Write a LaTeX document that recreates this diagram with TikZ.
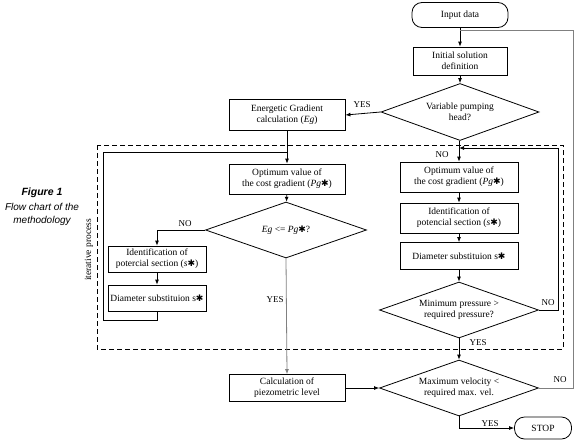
\documentclass[tikz,border=0pt]{standalone}
\usepackage{fontspec}
\setmainfont{Liberation Serif}
\setsansfont{Liberation Sans}
\newfontfamily\symbfont{DejaVu Sans}
\usetikzlibrary{positioning,arrows.meta,shapes.geometric}
\newcommand{\hvstar}{{\symbfont\fontsize{9}{9}\selectfont\char"2731}}

\tikzset{
  procbox/.style={draw, line width=0.8pt, minimum height=28pt, align=center, inner sep=1pt,
    font=\fontsize{9.5}{11}\selectfont},
  termbox/.style={draw, line width=0.8pt, rounded corners=10pt, align=center,
    font=\fontsize{9.5}{11}\selectfont},
  decbox/.style={diamond, draw, line width=0.8pt, aspect=2.85, minimum width=159pt,
    minimum height=56pt, inner sep=0pt, align=center, font=\fontsize{9.5}{11}\selectfont},
  flow/.style={line width=0.8pt, -{Latex[length=5pt,width=4pt]}},
  link/.style={line width=0.8pt},
  lbl/.style={font=\fontsize{9}{10}\selectfont, inner sep=1pt}
}

\begin{document}
\begin{tikzpicture}[x=1pt, y=-1pt]
  \useasboundingbox (0,0) rectangle (580,439);

  % Caption
  \node[font=\sffamily\bfseries\itshape\fontsize{10.5}{12}\selectfont] (fig) at (42,193) {Figure 1};
  \node[font=\sffamily\itshape\fontsize{10}{13}\selectfont, align=center] (cap) at (42,214) {Flow chart of the\\methodology};

  % Iterative region
  \draw[dashed, line width=0.9pt, dash pattern=on 5pt off 3pt] (97,145) rectangle (563,349);
  \node[rotate=90, font=\fontsize{9.5}{11}\selectfont] (iter) at (89,250) {iterative process};

  % Main column
  \node[termbox, minimum width=96pt, minimum height=25pt] (in) at (460,15) {Input data};
  \node[procbox, minimum width=94pt] (init) at (460,61) {Initial solution\\definition};
  \node[decbox, minimum width=158pt, minimum height=57pt] (varp) at (460,112) {Variable pumping\\head?};

  % Left branch
  \node[procbox, minimum width=116pt, minimum height=31pt] (eg) at (287,115) {Energetic Gradient\\calculation (\textit{Eg})};
  \node[procbox, minimum width=116pt, minimum height=30pt] (optL) at (287,179) {Optimum value of\\the cost gradient (\textit{Pg}\hvstar)};
  \node[decbox, minimum width=161pt] (decL) at (286,230) {\textit{Eg} <= \textit{Pg}\hvstar?};
  \node[procbox, minimum width=98pt, minimum height=26pt] (idL) at (157,259) {Identification of\\potercial section (\textit{s}\hvstar)};
  \node[procbox, minimum width=98pt, minimum height=26pt] (diamL) at (157,298) {Diameter substituion s\hvstar};
  \node[procbox, minimum width=116pt, minimum height=27pt] (calc) at (287,388) {Calculation of\\piezometric level};

  % Right branch
  \node[procbox, minimum width=118pt, minimum height=30pt] (optR) at (459,177) {Optimum value of\\the cost gradient (\textit{Pg}\hvstar)};
  \node[procbox, minimum width=118pt, minimum height=30pt] (idR) at (459,218) {Identification of\\potencial section (\textit{s}\hvstar)};
  \node[procbox, minimum width=118pt, minimum height=27pt] (diamR) at (459,256) {Diameter substituion s\hvstar};
  \node[decbox] (decR) at (459,310) {Minimum pressure >\\required pressure?};
  \node[decbox] (decV) at (459,388) {Maximum velocity <\\required max. vel.};
  \node[termbox, minimum width=57pt, minimum height=22pt] (stop) at (543,428) {STOP};

  % Loop corners
  \coordinate (loopL) at (103,152);
  \coordinate (loopR) at (558,148);
  \coordinate (outR) at (573,30);

  % Connectors
  \draw[flow] (in) -- (init);
  \draw[flow] (init) -- (varp);
  \draw[flow] (varp.west) -- (eg.east);
  \draw[flow] (eg.south) -- (optL.north);
  \draw[flow] (optL) -- (decL);
  \draw[flow] (decL.west) -| (idL.north);
  \draw[flow] (idL) -- (diamL);
  \draw[link] (diamL.south) -- ++(0,9) -| (loopL) -- (loopL -| eg.south);
  \draw[flow, gray] (decL.south) -- (calc.north);
  \draw[flow] (varp.south -| optR.north) -- (optR.north);
  \draw[flow] (optR) -- (idR);
  \draw[flow] (idR) -- (diamR);
  \draw[flow] (diamR) -- (decR);
  \draw[flow] (decR.east) -| (loopR) -- (loopR -| optR.north);
  \draw[flow] (decR.south) -- (decV.north);
  \draw[flow] (calc.east) -- (decV.west);
  \draw[link, gray] (decV.east) -| (outR) -- (outR -| init.north);
  \draw[flow] (decV.south) |- (stop.west);

  % Labels
  \node[lbl] (yes1) at (362,105) {YES};
  \node[lbl] (no1) at (442,155) {NO};
  \node[lbl] (no2) at (185,224) {NO};
  \node[lbl] (yes2) at (275,300) {YES};
  \node[lbl] (no3) at (548,303) {NO};
  \node[lbl] (yes3) at (478,343) {YES};
  \node[lbl] (no4) at (560,380) {NO};
  \node[lbl] (yes4) at (490,424) {YES};
\end{tikzpicture}
\end{document}
